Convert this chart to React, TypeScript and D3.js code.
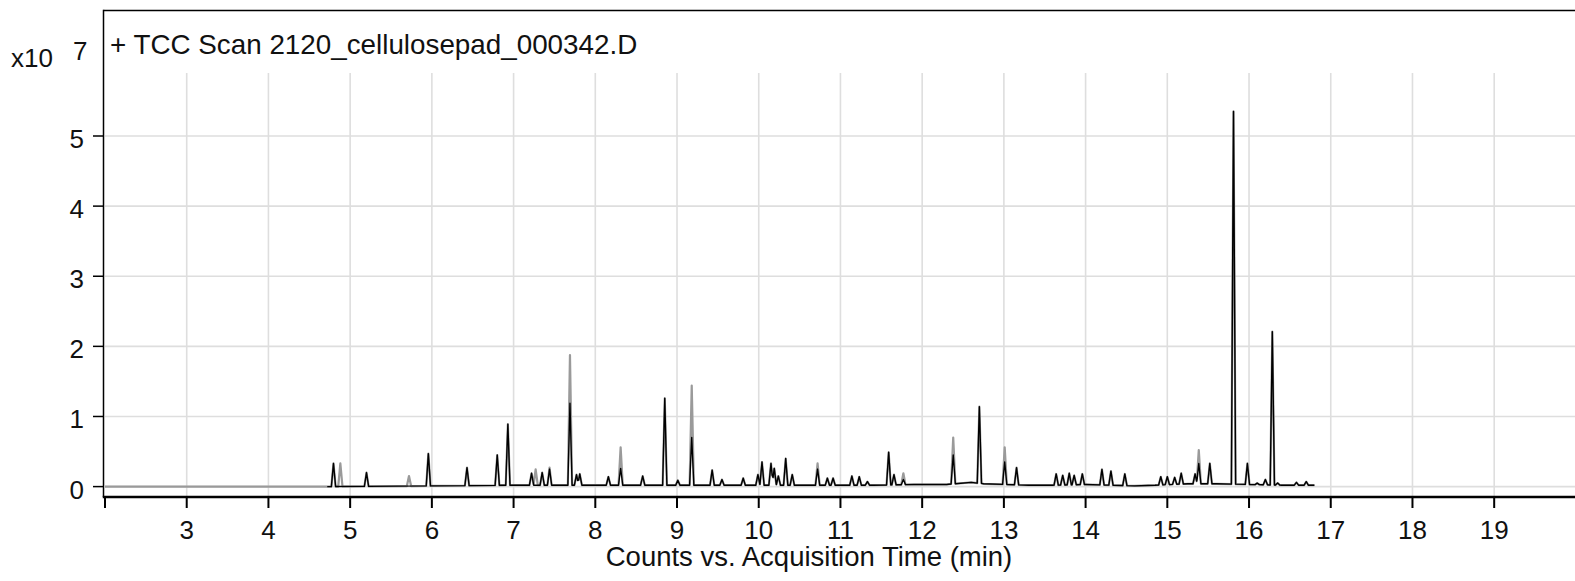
import React from "react";
import * as d3 from "d3";

// ---- data ----
const titleText = "+ TCC Scan 2120_cellulosepad_000342.D";
const xLabel = "Counts vs. Acquisition Time (min)";
const xTicks = [2, 3, 4, 5, 6, 7, 8, 9, 10, 11, 12, 13, 14, 15, 16, 17, 18, 19];
const xTickLabels = ["", "3", "4", "5", "6", "7", "8", "9", "10", "11", "12", "13", "14", "15", "16", "17", "18", "19"];
const yTicks = [0, 1, 2, 3, 4, 5];

// baseline drift (min, x10^7 counts)
const baseTimes = [2, 4.75, 6, 7, 8, 9.5, 10.5, 11.4, 11.9, 12.3, 12.6, 12.75, 13.3, 13.6, 14.0, 14.6, 14.85, 15.25, 15.6, 16.4, 16.8];
const baseValues = [0, 0, 0.01, 0.02, 0.02, 0.02, 0.02, 0.02, 0.03, 0.03, 0.06, 0.04, 0.02, 0.02, 0.03, 0.01, 0.02, 0.04, 0.04, 0.02, 0.02];

// peaks: apex time, outer (grey) apex, inner (black) apex
const peakTimes = [4.796, 4.88, 5.2, 5.72, 5.957, 6.43, 6.8, 6.93, 7.22, 7.27, 7.35, 7.44, 7.69, 7.77, 7.81, 8.16, 8.31, 8.58, 8.85, 9.01, 9.18, 9.43, 9.55, 9.81, 9.99, 10.04, 10.15, 10.19, 10.24, 10.33, 10.41, 10.72, 10.84, 10.91, 11.14, 11.23, 11.33, 11.59, 11.655, 11.77, 12.38, 12.7, 13.01, 13.155, 13.64, 13.72, 13.8, 13.86, 13.96, 14.2, 14.31, 14.48, 14.92, 15.0, 15.09, 15.17, 15.34, 15.385, 15.52, 15.81, 15.98, 16.1, 16.2, 16.285, 16.35, 16.58, 16.7];
const greyHeights = [0.33, 0.33, 0.2, 0.15, 0.47, 0.27, 0.45, 0.89, 0.19, 0.245, 0.2, 0.27, 1.876, 0.17, 0.18, 0.14, 0.56, 0.15, 1.26, 0.09, 1.44, 0.235, 0.1, 0.12, 0.17, 0.35, 0.33, 0.26, 0.15, 0.4, 0.17, 0.33, 0.12, 0.12, 0.15, 0.14, 0.07, 0.49, 0.17, 0.19, 0.7, 1.14, 0.56, 0.27, 0.18, 0.16, 0.19, 0.16, 0.18, 0.245, 0.22, 0.18, 0.14, 0.14, 0.13, 0.19, 0.18, 0.52, 0.33, 5.35, 0.33, 0.05, 0.1, 2.21, 0.05, 0.06, 0.07];
const blackHeights = [0.33, 0, 0.2, 0, 0.47, 0.27, 0.45, 0.89, 0.19, 0, 0.2, 0.25, 1.19, 0.17, 0.18, 0.14, 0.26, 0.15, 1.26, 0.09, 0.7, 0.235, 0.1, 0.12, 0.17, 0.35, 0.33, 0.26, 0.15, 0.4, 0.17, 0.25, 0.12, 0.12, 0.15, 0.14, 0.07, 0.49, 0.17, 0.1, 0.45, 1.14, 0.35, 0.27, 0.18, 0.16, 0.19, 0.16, 0.18, 0.245, 0.22, 0.18, 0.14, 0.14, 0.13, 0.19, 0.18, 0.33, 0.33, 5.35, 0.33, 0.05, 0.1, 2.21, 0.05, 0.06, 0.07];
const peakHalfWidth = 0.026; // min

// ---- layout ----
const W = 1575;
const H = 581;
const plotLeft = 103.5;
const plotTop = 10.5;
const gridTop = 73;
const axisY = 497;
const FONT = "'Liberation Sans', Arial, Helvetica, sans-serif";

const x = d3.scaleLinear().domain([2, 20]).range([105, 1575.9]);
const y = d3.scaleLinear().domain([0, 5]).range([486.6, 136]);
const base = d3.scaleLinear().domain(baseTimes).range(baseValues).clamp(true);

function buildTrace(heights: number[], t0: number, t1: number): [number, number][] {
  const ts = new Set<number>();
  baseTimes.forEach((t) => { if (t >= t0 && t <= t1) ts.add(t); });
  ts.add(t0); ts.add(t1);
  peakTimes.forEach((t, i) => {
    if (heights[i] <= 0) return;
    ts.add(t - peakHalfWidth); ts.add(t); ts.add(t + peakHalfWidth);
  });
  const times = Array.from(ts).filter((t) => t >= t0 && t <= t1).sort((a, b) => a - b);
  return times.map((t) => {
    let v = base(t);
    peakTimes.forEach((pt, i) => {
      const h = heights[i];
      if (h <= 0) return;
      const d = Math.abs(t - pt);
      if (d < peakHalfWidth) {
        const b = base(pt);
        const val = b + (h - b) * (1 - d / peakHalfWidth);
        if (val > v) v = val;
      }
    });
    return [t, v];
  });
}

const line = d3.line<[number, number]>().x((d) => x(d[0])).y((d) => y(d[1]));

export default function App() {
  const greyTrace = buildTrace(greyHeights, 2, 16.8);
  const blackTrace = buildTrace(blackHeights, 4.72, 16.8);
  return (
    <svg width={W} height={H} style={{ position: "absolute", left: 0, top: 0, background: "#fff" }}>
      <rect x={0} y={0} width={W} height={H} fill="#fff" />
      {/* grid */}
      {xTicks.filter((t) => t > 2).map((t) => (
        <line key={"gx" + t} x1={x(t)} x2={x(t)} y1={gridTop} y2={axisY} stroke="#dedede" strokeWidth={1.6} />
      ))}
      {yTicks.map((v) => (
        <line key={"gy" + v} x1={105} x2={W} y1={y(v)} y2={y(v)} stroke="#dedede" strokeWidth={1.6} />
      ))}
      {/* traces */}
      <path d={line(greyTrace) || ""} fill="none" stroke="#9a9a9a" strokeWidth={2.2} strokeLinejoin="round" />
      <path d={line(blackTrace) || ""} fill="none" stroke="#000" strokeWidth={1.4} strokeLinejoin="round" />
      {/* frame */}
      <line x1={plotLeft} x2={W} y1={plotTop} y2={plotTop} stroke="#000" strokeWidth={1.5} />
      <line x1={plotLeft} x2={plotLeft} y1={plotTop - 0.75} y2={axisY} stroke="#000" strokeWidth={1.5} />
      <line x1={plotLeft - 0.75} x2={W} y1={axisY} y2={axisY} stroke="#000" strokeWidth={2.5} />
      {/* x ticks */}
      {xTicks.map((t, i) => (
        <g key={"xt" + t}>
          <line x1={x(t)} x2={x(t)} y1={axisY} y2={508} stroke="#000" strokeWidth={2} />
          <text x={x(t)} y={539} textAnchor="middle" fontFamily={FONT} fontSize={26} fill="#111">
            {xTickLabels[i]}
          </text>
        </g>
      ))}
      {/* y ticks */}
      {yTicks.map((v) => (
        <g key={"yt" + v}>
          <line x1={93} x2={plotLeft} y1={y(v)} y2={y(v)} stroke="#000" strokeWidth={1.5} />
          <text x={84} y={y(v) + 12} textAnchor="end" fontFamily={FONT} fontSize={26} fill="#111">
            {v}
          </text>
        </g>
      ))}
      {/* exponent */}
      <text x={11} y={67} fontFamily={FONT} fontSize={26} fill="#111">x10</text>
      <text x={73} y={60} fontFamily={FONT} fontSize={26} fill="#111">7</text>
      {/* title */}
      <text x={110} y={54} fontFamily={FONT} fontSize={27.8} fill="#111">{titleText}</text>
      {/* x axis label */}
      <text x={809} y={566} textAnchor="middle" fontFamily={FONT} fontSize={27.5} fill="#111">{xLabel}</text>
    </svg>
  );
}
